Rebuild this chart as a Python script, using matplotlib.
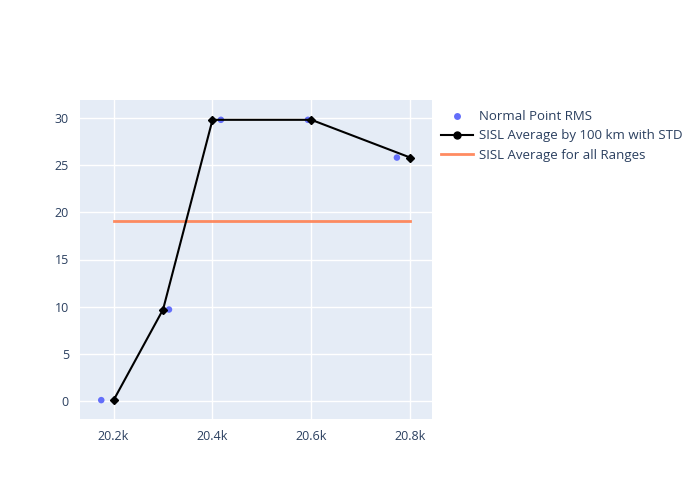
import matplotlib
matplotlib.use("Agg")
import matplotlib.pyplot as plt
from matplotlib.ticker import FuncFormatter
from matplotlib.lines import Line2D

plt.rcParams['font.family'] = ['Open Sans', 'DejaVu Sans']

np_x = [20175, 20312, 20417, 20593, 20773]
np_y = [0.1, 9.7, 29.8, 29.8, 25.8]
avg_x = [20200, 20300, 20400, 20600, 20800]
avg_y = [0.1, 9.7, 29.8, 29.8, 25.8]
all_x = [20200, 20800]
all_y = [19.1, 19.1]
xticks = [20200, 20400, 20600, 20800]
yticks = [0, 5, 10, 15, 20, 25, 30]

fig = plt.figure(figsize=(7, 5), dpi=100)
ax = fig.add_axes([80/700, 81/500, 352/700, 319/500])
ax.set_facecolor('#E5ECF6')
for s in ax.spines.values():
    s.set_visible(False)
ax.grid(True, color='white', linewidth=1)
ax.set_axisbelow(True)

ax.scatter(np_x, np_y, s=22, color='#636EFA', zorder=3, edgecolors='none')
ax.plot(avg_x, avg_y, color='black', linewidth=1.5, marker='D', markersize=4, zorder=4)
ax.plot(all_x, all_y, color='#FF7F50', linewidth=2, zorder=2, alpha=0.9)

ax.set_xlim(20132, 20844)
ax.set_ylim(-1.9, 31.9)
ax.set_xticks(xticks)
ax.set_yticks(yticks)
ax.xaxis.set_major_formatter(FuncFormatter(lambda v, p: f"{v/1000:.1f}k"))
ax.tick_params(axis='both', length=0, labelsize=9, colors='#2A3F5F', pad=8)

handles = [
    Line2D([], [], linestyle='none', marker='o', markersize=5, color='#636EFA', markeredgewidth=0),
    Line2D([], [], color='black', linewidth=1.5, marker='o', markersize=5),
    Line2D([], [], color='#FF7F50', linewidth=2, alpha=0.9),
]
labels = ['Normal Point RMS', 'SISL Average by 100 km with STD', 'SISL Average for all Ranges']
leg = fig.legend(handles, labels, loc='upper left', bbox_to_anchor=(436/700, 1 - 105/500), frameon=False,
                 fontsize=9.5, labelcolor='#2A3F5F', handlelength=2.4, handletextpad=0.45,
                 labelspacing=0.47, borderaxespad=0)

fig.savefig('out.png', dpi=100)
